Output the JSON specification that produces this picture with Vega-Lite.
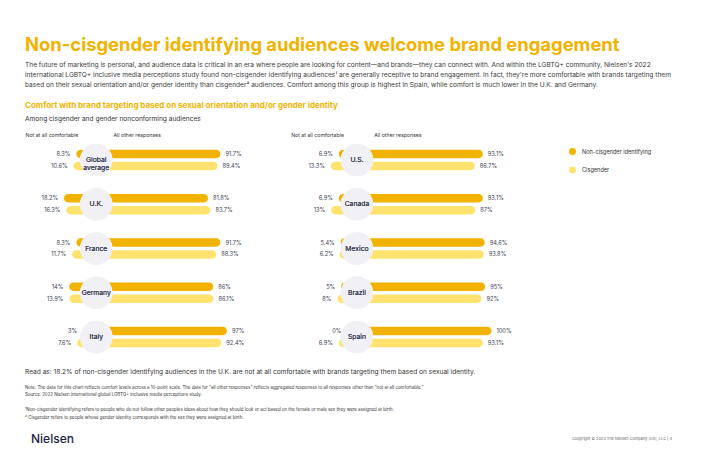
{
  "$schema": "https://vega.github.io/schema/vega-lite/v6.json",
  "background": "white",
  "padding": {"left": 25, "top": 36, "right": 5, "bottom": 5},
  "datasets": {
    "rows": [
      {"panel": "left", "country": "Global average", "group": "Non-cisgender identifying", "not": 0.083, "other": 0.917},
      {"panel": "left", "country": "Global average", "group": "Cisgender", "not": 0.106, "other": 0.894},
      {"panel": "left", "country": "U.K.", "group": "Non-cisgender identifying", "not": 0.182, "other": 0.818},
      {"panel": "left", "country": "U.K.", "group": "Cisgender", "not": 0.163, "other": 0.837},
      {"panel": "left", "country": "France", "group": "Non-cisgender identifying", "not": 0.083, "other": 0.917},
      {"panel": "left", "country": "France", "group": "Cisgender", "not": 0.117, "other": 0.883},
      {"panel": "left", "country": "Germany", "group": "Non-cisgender identifying", "not": 0.14, "other": 0.86},
      {"panel": "left", "country": "Germany", "group": "Cisgender", "not": 0.139, "other": 0.861},
      {"panel": "left", "country": "Italy", "group": "Non-cisgender identifying", "not": 0.03, "other": 0.97},
      {"panel": "left", "country": "Italy", "group": "Cisgender", "not": 0.076, "other": 0.924},
      {"panel": "right", "country": "U.S.", "group": "Non-cisgender identifying", "not": 0.069, "other": 0.931},
      {"panel": "right", "country": "U.S.", "group": "Cisgender", "not": 0.133, "other": 0.867},
      {"panel": "right", "country": "Canada", "group": "Non-cisgender identifying", "not": 0.069, "other": 0.931},
      {"panel": "right", "country": "Canada", "group": "Cisgender", "not": 0.13, "other": 0.87},
      {"panel": "right", "country": "Mexico", "group": "Non-cisgender identifying", "not": 0.054, "other": 0.946},
      {"panel": "right", "country": "Mexico", "group": "Cisgender", "not": 0.062, "other": 0.938},
      {"panel": "right", "country": "Brazil", "group": "Non-cisgender identifying", "not": 0.05, "other": 0.95},
      {"panel": "right", "country": "Brazil", "group": "Cisgender", "not": 0.08, "other": 0.92},
      {"panel": "right", "country": "Spain", "group": "Non-cisgender identifying", "not": 0.0, "other": 1.0},
      {"panel": "right", "country": "Spain", "group": "Cisgender", "not": 0.069, "other": 0.931}
    ],
    "footer": [
      {"brand": "Nielsen", "copyright": "Copyright © 2023 The Nielsen Company (US), LLC   |   4"}
    ]
  },
  "title": {
    "text": "Non-cisgender identifying audiences welcome brand engagement",
    "subtitle": [
      "The future of marketing is personal, and audience data is critical in an era where people are looking for content—and brands—they can connect with. And within the LGBTQ+ community, Nielsen's 2022",
      "international LGBTQ+ inclusive media perceptions study found non-cisgender identifying audiences¹ are generally receptive to brand engagement. In fact, they're more comfortable with brands targeting them",
      "based on their sexual orientation and/or gender identity than cisgender² audiences. Comfort among this group is highest in Spain, while comfort is much lower in the U.K. and Germany."
    ],
    "anchor": "start",
    "font": "Inter",
    "fontSize": 18.4,
    "fontWeight": "bold",
    "color": "#F2B300",
    "subtitleFont": "Inter",
    "subtitleFontSize": 6.6,
    "subtitleColor": "#3a3a3a",
    "subtitleLineHeight": 10,
    "subtitlePadding": 7,
    "offset": 14
  },
  "spacing": 12,
  "resolve": {"legend": {"color": "independent"}},
  "vconcat": [
    {
      "title": {
        "text": "Comfort with brand targeting based on sexual orientation and/or gender identity",
        "subtitle": "Among cisgender and gender nonconforming audiences",
        "anchor": "start",
        "font": "Inter",
        "fontSize": 8,
        "fontWeight": "bold",
        "color": "#F2B300",
        "subtitleFont": "Inter",
        "subtitleFontSize": 6.6,
        "subtitleColor": "#333333",
        "subtitlePadding": 6,
        "offset": 9
      },
      "spacing": 40.7,
      "hconcat": [
        {
          "width": 225,
          "height": 217,
          "data": {"name": "rows"},
          "transform": [{"filter": "datum.panel === 'left'"}],
          "encoding": {
            "y": {"field": "country", "type": "nominal", "sort": null, "axis": null, "scale": {"paddingInner": 0.458, "paddingOuter": 0.18}}
          },
          "layer": [
            {
              "mark": {"type": "bar", "cornerRadius": 4.2, "xOffset": -9.5, "x2Offset": -9.5},
              "encoding": {
                "x": {"field": "not", "type": "quantitative", "scale": {"domain": [-1.23, 0.57], "reverse": true}, "axis": null},
                "x2": {"datum": 0},
                "yOffset": {"field": "group", "type": "nominal", "scale": {"domain": ["Non-cisgender identifying", "Cisgender"], "paddingInner": 0.3, "paddingOuter": 0.15}},
                "color": {"field": "group", "type": "nominal", "scale": {"domain": ["Non-cisgender identifying", "Cisgender"], "range": ["#F2B300", "#FFE36E"]}, "legend": {"title": null}}
              }
            },
            {
              "mark": {"type": "text", "align": "right", "baseline": "middle", "xOffset": -9.5, "dx": -6, "fontSize": 5.7, "color": "#3c3f55", "font": "Inter"},
              "encoding": {
                "x": {"field": "not", "type": "quantitative", "scale": {"domain": [-1.23, 0.57], "reverse": true}, "axis": null},
                "yOffset": {"field": "group", "type": "nominal", "scale": {"domain": ["Non-cisgender identifying", "Cisgender"], "paddingInner": 0.3, "paddingOuter": 0.15}},
                "text": {"field": "not", "type": "quantitative", "format": ".1~%"}
              }
            },
            {
              "mark": {"type": "bar", "cornerRadius": 4.2, "xOffset": 9.5, "x2Offset": 9.5},
              "encoding": {
                "x": {"field": "other", "type": "quantitative", "scale": {"domain": [-0.57, 1.23]},
                  "axis": {"orient": "top", "values": [-0.57, 0.134], "labelExpr": "datum.value < 0 ? 'Not at all comfortable' : 'All other responses'", "labelAlign": "left", "labelFlush": false, "labelBound": false, "labelOverlap": false, "labelFontSize": 5.2, "labelColor": "#333333", "labelFont": "Inter", "labelPadding": 3, "domain": false, "ticks": false, "grid": false, "title": null}},
                "x2": {"datum": 0},
                "yOffset": {"field": "group", "type": "nominal", "scale": {"domain": ["Non-cisgender identifying", "Cisgender"], "paddingInner": 0.3, "paddingOuter": 0.15}},
                "color": {"field": "group", "type": "nominal", "scale": {"domain": ["Non-cisgender identifying", "Cisgender"], "range": ["#F2B300", "#FFE36E"]}, "legend": {"title": null}}
              }
            },
            {
              "mark": {"type": "text", "align": "left", "baseline": "middle", "xOffset": 9.5, "dx": 5, "fontSize": 5.7, "color": "#3c3f55", "font": "Inter"},
              "encoding": {
                "x": {"field": "other", "type": "quantitative", "scale": {"domain": [-0.57, 1.23]}, "axis": null},
                "yOffset": {"field": "group", "type": "nominal", "scale": {"domain": ["Non-cisgender identifying", "Cisgender"], "paddingInner": 0.3, "paddingOuter": 0.15}},
                "text": {"field": "other", "type": "quantitative", "format": ".1~%"}
              }
            },
            {
              "mark": {"type": "point", "shape": "circle", "filled": true, "size": 1050, "color": "#F1F1F5", "opacity": 1},
              "encoding": {
                "x": {"datum": 0, "type": "quantitative", "scale": {"domain": [-0.57, 1.23]}, "axis": null}
              }
            },
            {
              "mark": {"type": "text", "align": "center", "baseline": "middle", "fontSize": 6.8, "color": "#3a3f55", "font": "Inter", "lineBreak": " ", "lineHeight": 8.5},
              "encoding": {
                "x": {"datum": 0, "type": "quantitative", "scale": {"domain": [-0.57, 1.23]}, "axis": null},
                "text": {"field": "country", "type": "nominal"}
              }
            }
          ],
          "resolve": {"scale": {"x": "independent"}}
        },
        {
          "width": 225,
          "height": 217,
          "data": {"name": "rows"},
          "transform": [{"filter": "datum.panel === 'right'"}],
          "encoding": {
            "y": {"field": "country", "type": "nominal", "sort": null, "axis": null, "scale": {"paddingInner": 0.458, "paddingOuter": 0.18}}
          },
          "layer": [
            {
              "mark": {"type": "bar", "cornerRadius": 4.2, "xOffset": -9.5, "x2Offset": -9.5},
              "encoding": {
                "x": {"field": "not", "type": "quantitative", "scale": {"domain": [-1.27, 0.53], "reverse": true}, "axis": null},
                "x2": {"datum": 0},
                "yOffset": {"field": "group", "type": "nominal", "scale": {"domain": ["Non-cisgender identifying", "Cisgender"], "paddingInner": 0.3, "paddingOuter": 0.15}},
                "color": {"field": "group", "type": "nominal", "scale": {"domain": ["Non-cisgender identifying", "Cisgender"], "range": ["#F2B300", "#FFE36E"]}, "legend": {"title": null}}
              }
            },
            {
              "mark": {"type": "text", "align": "right", "baseline": "middle", "xOffset": -9.5, "dx": -6, "fontSize": 5.7, "color": "#3c3f55", "font": "Inter"},
              "encoding": {
                "x": {"field": "not", "type": "quantitative", "scale": {"domain": [-1.27, 0.53], "reverse": true}, "axis": null},
                "yOffset": {"field": "group", "type": "nominal", "scale": {"domain": ["Non-cisgender identifying", "Cisgender"], "paddingInner": 0.3, "paddingOuter": 0.15}},
                "text": {"field": "not", "type": "quantitative", "format": ".1~%"}
              }
            },
            {
              "mark": {"type": "bar", "cornerRadius": 4.2, "xOffset": 9.5, "x2Offset": 9.5},
              "encoding": {
                "x": {"field": "other", "type": "quantitative", "scale": {"domain": [-0.53, 1.27]},
                  "axis": {"orient": "top", "values": [-0.53, 0.134], "labelExpr": "datum.value < 0 ? 'Not at all comfortable' : 'All other responses'", "labelAlign": "left", "labelFlush": false, "labelBound": false, "labelOverlap": false, "labelFontSize": 5.2, "labelColor": "#333333", "labelFont": "Inter", "labelPadding": 3, "domain": false, "ticks": false, "grid": false, "title": null}},
                "x2": {"datum": 0},
                "yOffset": {"field": "group", "type": "nominal", "scale": {"domain": ["Non-cisgender identifying", "Cisgender"], "paddingInner": 0.3, "paddingOuter": 0.15}},
                "color": {"field": "group", "type": "nominal", "scale": {"domain": ["Non-cisgender identifying", "Cisgender"], "range": ["#F2B300", "#FFE36E"]}, "legend": {"title": null}}
              }
            },
            {
              "mark": {"type": "text", "align": "left", "baseline": "middle", "xOffset": 9.5, "dx": 5, "fontSize": 5.7, "color": "#3c3f55", "font": "Inter"},
              "encoding": {
                "x": {"field": "other", "type": "quantitative", "scale": {"domain": [-0.53, 1.27]}, "axis": null},
                "yOffset": {"field": "group", "type": "nominal", "scale": {"domain": ["Non-cisgender identifying", "Cisgender"], "paddingInner": 0.3, "paddingOuter": 0.15}},
                "text": {"field": "other", "type": "quantitative", "format": ".1~%"}
              }
            },
            {
              "mark": {"type": "point", "shape": "circle", "filled": true, "size": 1050, "color": "#F1F1F5", "opacity": 1},
              "encoding": {
                "x": {"datum": 0, "type": "quantitative", "scale": {"domain": [-0.53, 1.27]}, "axis": null}
              }
            },
            {
              "mark": {"type": "text", "align": "center", "baseline": "middle", "fontSize": 6.8, "color": "#3a3f55", "font": "Inter", "lineBreak": " ", "lineHeight": 8.5},
              "encoding": {
                "x": {"datum": 0, "type": "quantitative", "scale": {"domain": [-0.53, 1.27]}, "axis": null},
                "text": {"field": "country", "type": "nominal"}
              }
            }
          ],
          "resolve": {"scale": {"x": "independent"}}
        }
      ]
    },
    {
      "width": 647,
      "height": 16,
      "data": {"name": "footer"},
      "title": {
        "text": "Read as: 18.2% of non-cisgender identifying audiences in the U.K. are not at all comfortable with brands targeting them based on sexual identity.",
        "subtitle": [
          "Note: The data for this chart reflects comfort levels across a 10-point scale. The data for “all other responses” reflects aggregated responses to all responses other than “not at all comfortable.”",
          "Source: 2022 Nielsen international global LGBTQ+ inclusive media perceptions study.",
          "\u2800",
          "¹Non-cisgender identifying refers to people who do not follow other peoples ideas about how they should look or act based on the female or male sex they were assigned at birth.",
          "² Cisgender refers to people whose gender identity corresponds with the sex they were assigned at birth."
        ],
        "anchor": "start",
        "font": "Inter",
        "fontSize": 6.6,
        "fontWeight": "normal",
        "color": "#333333",
        "subtitleFont": "Inter",
        "subtitleFontSize": 4.4,
        "subtitleColor": "#333333",
        "subtitleLineHeight": 7.5,
        "subtitlePadding": 10,
        "offset": 12
      },
      "layer": [
        {
          "mark": {"type": "text", "align": "left", "baseline": "middle", "dx": 6, "fontSize": 12, "fontWeight": 500, "color": "#1C2440", "font": "Inter"},
          "encoding": {
            "x": {"datum": 0, "type": "quantitative", "scale": {"domain": [0, 1]}, "axis": null},
            "text": {"field": "brand", "type": "nominal"}
          }
        },
        {
          "mark": {"type": "text", "align": "right", "baseline": "middle", "fontSize": 3.9, "color": "#666666", "font": "Inter"},
          "encoding": {
            "x": {"datum": 1, "type": "quantitative", "scale": {"domain": [0, 1]}, "axis": null},
            "text": {"field": "copyright", "type": "nominal"}
          }
        }
      ]
    }
  ],
  "config": {
    "view": {"stroke": null},
    "font": "Inter",
    "legend": {
      "orient": "right",
      "offset": 45,
      "padding": 8,
      "symbolType": "circle",
      "symbolSize": 48,
      "symbolStrokeWidth": 0,
      "labelFontSize": 5.6,
      "labelColor": "#333333",
      "labelFont": "Inter",
      "labelOffset": 6,
      "rowPadding": 10.5
    }
  }
}
